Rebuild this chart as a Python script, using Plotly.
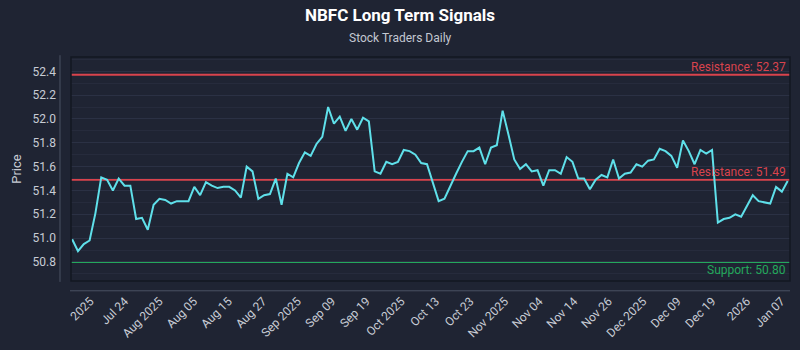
import plotly.graph_objects as go

title_text = "NBFC Long Term Signals"
subtitle_text = "Stock Traders Daily"

prices = [
    50.99, 50.89, 50.95, 50.98, 51.21, 51.51, 51.49, 51.40, 51.50, 51.44, 51.44,
    51.16, 51.17, 51.07, 51.28, 51.33, 51.32, 51.29, 51.31, 51.31, 51.31, 51.43,
    51.36, 51.47, 51.44, 51.42, 51.43, 51.43, 51.40, 51.34, 51.60,
    51.56, 51.33, 51.36, 51.37, 51.50, 51.28, 51.54, 51.51, 51.63, 51.72, 51.69,
    51.79, 51.85, 52.10, 51.96, 52.02, 51.90, 52.00, 51.91, 52.01, 51.98, 51.56,
    51.54, 51.64, 51.62, 51.64, 51.74, 51.73, 51.70, 51.63, 51.62,
    51.47, 51.31, 51.33, 51.44, 51.54, 51.64, 51.73, 51.73, 51.76, 51.62, 51.76,
    51.78, 52.07, 51.87, 51.66, 51.58, 51.62, 51.56, 51.57, 51.44, 51.57, 51.57,
    51.54, 51.68, 51.64, 51.50, 51.50, 51.41, 51.49, 51.53, 51.51,
    51.66, 51.50, 51.54, 51.55, 51.62, 51.60, 51.65, 51.66, 51.75, 51.73, 51.69,
    51.59, 51.82, 51.73, 51.62, 51.74, 51.71, 51.74, 51.13, 51.16, 51.17, 51.20,
    51.18, 51.27, 51.36, 51.31, 51.30, 51.29, 51.43, 51.39, 51.48,
]

tick_labels = [
    "2025", "Jul 24", "Aug 2025", "Aug 05", "Aug 15", "Aug 27", "Sep 2025",
    "Sep 09", "Sep 19", "Oct 2025", "Oct 13", "Oct 23", "Nov 2025", "Nov 04",
    "Nov 14", "Nov 26", "Dec 2025", "Dec 09", "Dec 19", "2026", "Jan 07",
]

resistance_levels = [52.37, 51.49]
support_levels = [50.80]

x_idx = list(range(len(prices)))
tick_first, tick_step = 3.1, 5.94
tick_vals = [tick_first + i * tick_step for i in range(len(tick_labels))]

BG = "#1f2433"
RED = "#d9434d"
GREEN = "#24a85c"
CYAN = "#5fe0ea"
FONT = "Roboto"

fig = go.Figure()
fig.add_trace(go.Scatter(
    x=x_idx, y=prices, mode="lines",
    line=dict(color=CYAN, width=2), hoverinfo="skip", showlegend=False,
))

shapes = []
annotations = []
for lvl in resistance_levels:
    shapes.append(dict(type="line", xref="paper", yref="y", x0=0, x1=1, y0=lvl, y1=lvl,
                       line=dict(color=RED, width=2), layer="below"))
    annotations.append(dict(xref="paper", yref="y", x=0.997, y=lvl, text=f"Resistance: {lvl:.2f}",
                            showarrow=False, xanchor="right", yanchor="bottom",
                            font=dict(color=RED, size=12, family=FONT), yshift=-1))
for lvl in support_levels:
    shapes.append(dict(type="line", xref="paper", yref="y", x0=0, x1=1, y0=lvl, y1=lvl,
                       line=dict(color=GREEN, width=2), layer="below"))
    annotations.append(dict(xref="paper", yref="y", x=0.997, y=lvl, text=f"Support: {lvl:.2f}",
                            showarrow=False, xanchor="right", yanchor="top",
                            font=dict(color=GREEN, size=12, family=FONT), yshift=1))

# plot border and offset axis lines
shapes.append(dict(type="rect", xref="paper", yref="paper", x0=0, x1=1, y0=0, y1=1,
                   line=dict(color="#131722", width=1.5), layer="above"))
shapes.append(dict(type="line", xref="paper", yref="paper", x0=-0.0153, x1=-0.0153, y0=-0.004, y1=1.008,
                   line=dict(color="#4b5263", width=1)))
shapes.append(dict(type="line", xref="paper", yref="paper", x0=-0.0014, x1=1, y0=-0.0437, y1=-0.0437,
                   line=dict(color="#4b5263", width=1)))

annotations.append(dict(xref="paper", yref="paper", x=(400 - 71) / 719, y=1 + (57 - 38) / 229,
                        text=subtitle_text, showarrow=False, xanchor="center", yanchor="middle",
                        font=dict(color="#c3c8d2", size=12, family=FONT)))

fig.update_layout(
    width=800, height=350,
    paper_bgcolor=BG, plot_bgcolor=BG,
    margin=dict(l=71, r=10, t=57, b=64),
    title=dict(text=f"<b>{title_text}</b>", x=0.5, xanchor="center", y=1 - 15 / 350, yanchor="middle",
               font=dict(color="#ffffff", size=17, family=FONT)),
    shapes=shapes, annotations=annotations,
    xaxis=dict(range=[-0.2, 123.4], tickmode="array", tickvals=tick_vals, ticktext=tick_labels,
               tickangle=-45, showgrid=False, zeroline=False, showline=False,
               tickfont=dict(color="#c8ccd5", size=12, family=FONT), ticklabelstandoff=10),
    yaxis=dict(range=[50.64, 52.52], tickmode="array", tickvals=[50.8, 51.0, 51.2, 51.4, 51.6, 51.8, 52.0, 52.2, 52.4],
               ticktext=["50.8", "51.0", "51.2", "51.4", "51.6", "51.8", "52.0", "52.2", "52.4"],
               showgrid=True, gridcolor="#2b3144", gridwidth=1, zeroline=False, showline=False,
               minor=dict(dtick=0.1, showgrid=True, gridcolor="#262b3c", gridwidth=1),
               tickfont=dict(color="#c8ccd5", size=12, family=FONT), ticklabelstandoff=14,
               title=dict(text="Price", font=dict(color="#c8ccd5", size=13, family=FONT), standoff=8)),
    font=dict(family=FONT),
)

fig.write_html("out.html")
